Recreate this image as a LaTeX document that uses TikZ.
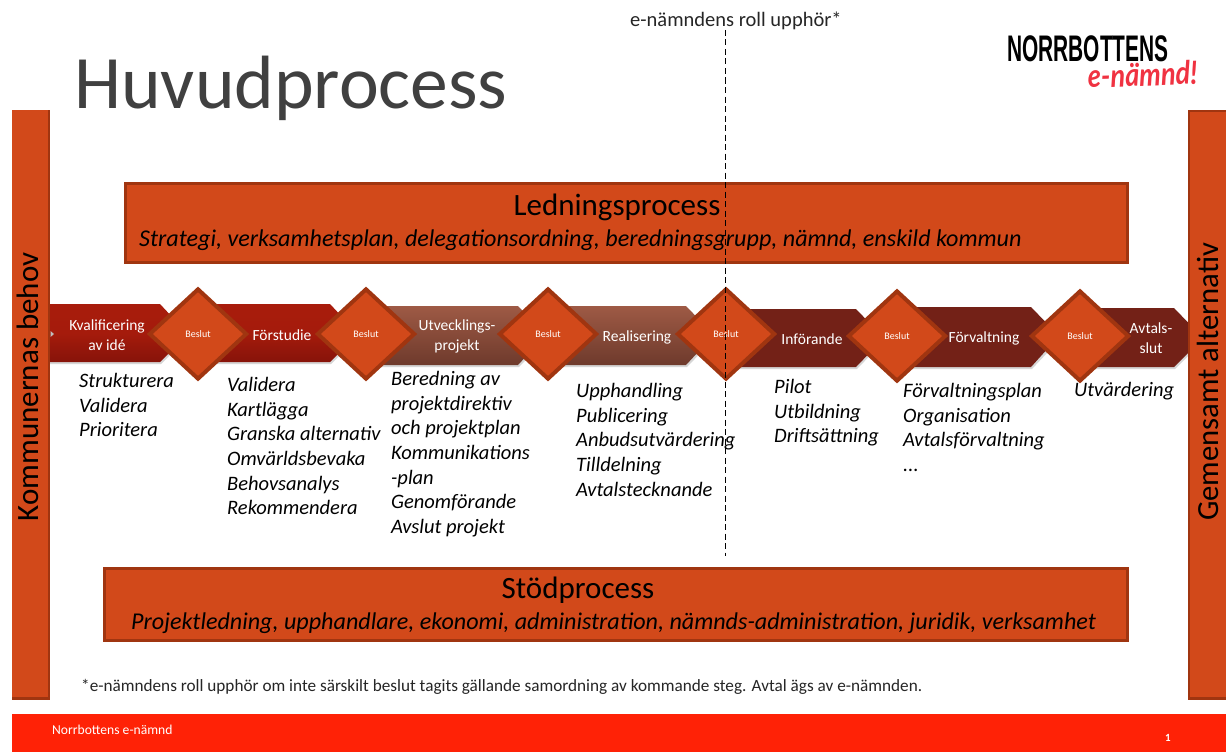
\documentclass[tikz,border=0pt]{standalone}
\usepackage{fontspec}
\setmainfont{Carlito}
\newfontfamily\logofont{Liberation Sans}
\newfontfamily\scriptlogo{Lato}
\usetikzlibrary{shapes.geometric}
\definecolor{bar}{HTML}{D2491A}
\definecolor{barEdge}{HTML}{A03510}
\definecolor{redA}{HTML}{A81C0C}
\definecolor{redB}{HTML}{87130A}
\definecolor{brA}{HTML}{9E5A45}
\definecolor{brB}{HTML}{6E3A2C}
\definecolor{dk}{HTML}{732117}
\definecolor{footred}{HTML}{FF2206}
\newcommand{\fs}[1]{\fontsize{#1}{#1}\selectfont}
\tikzset{
 x=1pt,y=-1pt,
 barbox/.style={fill=bar,draw=barEdge,line width=2.8pt},
 sidetext/.style={rotate=90,font=\fs{31},text=black},
 gate/.style={diamond,aspect=1.07,fill=bar,draw=barEdge,line width=4pt,inner sep=0pt,minimum width=98pt,minimum height=91pt,font=\fs{10},text=white},
 steplabel/.style={font=\fontsize{15.5}{20}\selectfont,text=white,align=center,inner sep=0pt},
 tasks/.style={anchor=north west,align=left,inner sep=0pt,font=\itshape\fontsize{20.5}{24.7}\selectfont,text=black},
 chevshadow/.style={fill=black!16},
 redseg/.style={top color=redA,bottom color=redB,middle color=redA!90!redB},
 brseg/.style={top color=brA,bottom color=brB},
 dkseg/.style={fill=dk},
}
\begin{document}
\begin{tikzpicture}
\useasboundingbox (0,0) rectangle (1226,752);
\fill[white] (0,0) rectangle (1226,752);

% title and logo
\node[anchor=base west,inner sep=0pt,font=\fs{75.5},text=black!75] (title) at (74,108) {Huvudprocess};
\node[anchor=base,inner sep=0pt,font=\logofont\bfseries\fs{37}] (logoa) at (1088,62) {\scalebox{0.565}[1]{NORRBOTTENS}};
\node[anchor=base,inner sep=0pt,rotate=2,font=\scriptlogo\bfseries\itshape\fs{32},text={rgb,255:red,240;green,50;blue,65}] (logob) at (1143,86) {\scalebox{0.85}[1]{e-nämnd!}};
\node[anchor=base,inner sep=0pt,font=\fs{20.5},text=black!85] (role) at (736,26.5) {e-nämndens roll upphör*};

% left side bar
\fill[barEdge] (12,110) rectangle (50,700);
\fill[bar] (12,110) rectangle (48,697);
\node[sidetext] (lefttxt) at (27.5,387) {Kommunernas behov};

% management and support boxes
\node[barbox,minimum width=1002pt,minimum height=79pt,inner sep=0pt] (led) at (626.5,223) {};
\node[anchor=base,inner sep=0pt,font=\fs{31}] (ledt) at (617,215) {Ledningsprocess};
\node[anchor=base west,inner sep=0pt,font=\itshape\fs{24.1}] (leds) at (139,246) {Strategi, verksamhetsplan, delegationsordning, beredningsgrupp, nämnd, enskild kommun};
\node[barbox,minimum width=1023pt,minimum height=72pt,inner sep=0pt] (stod) at (616,604.5) {};
\node[anchor=base,inner sep=0pt,font=\fs{31}] (stodt) at (578,598) {Stödprocess};
\node[anchor=base west,inner sep=0pt,font=\itshape\fs{24.1}] (stods) at (131,629) {Projektledning, upphandlare, ekonomi, administration, nämnds-administration, juridik, verksamhet};

% chevrons
\fill[chevshadow] (50,306)--(161,306)--(190,335)--(161,364)--(50,364)--cycle;
\path[redseg] (50,304)--(160,304)--(188,334)--(160,362)--(50,362)--cycle;
\fill[chevshadow] (200,306)--(331,306)--(360,335)--(331,364)--(200,364)--cycle;
\path[redseg] (198,304)--(330,304)--(358,334)--(330,362)--(198,362)--cycle;
\fill[chevshadow] (370,308)--(519,308)--(548,337)--(519,367)--(370,367)--cycle;
\path[brseg] (366,306)--(518,306)--(546,335)--(518,365)--(366,365)--cycle;
\fill[chevshadow] (550,308)--(687,308)--(716,337)--(687,367)--(550,367)--cycle;
\path[brseg] (548,306)--(686,306)--(714,335)--(686,365)--(548,365)--cycle;
\fill[chevshadow] (730,311)--(857,311)--(886,339)--(857,369)--(730,369)--cycle;
\path[dkseg] (727,309)--(856,309)--(884,338)--(856,367)--(727,367)--cycle;
\fill[chevshadow] (900,309)--(1032,309)--(1061,338)--(1032,369)--(900,369)--cycle;
\path[dkseg] (897,307)--(1031,307)--(1059,336)--(1031,367)--(897,367)--cycle;
\fill[chevshadow] (1083,310)--(1175,310)--(1205,339)--(1175,369)--(1083,369)--cycle;
\path[dkseg] (1081,308)--(1174,308)--(1203,338)--(1174,367)--(1081,367)--cycle;
\fill[black!25] (50.5,331)--(54,334)--(50.5,337)--cycle;

% right side bar
\fill[barEdge] (1188,110) rectangle (1226,700);
\fill[bar] (1190,112) rectangle (1226,697);
\node[sidetext,font=\fs{30.7}] (righttxt) at (1208,382) {Gemensamt alternativ};

% gates
\node[gate] (g1) at (198,334) {Beslut};
\node[gate] (g2) at (366,334) {Beslut};
\node[gate] (g3) at (548,334) {Beslut};
\node[gate] (g4) at (726,334) {Beslut};
\node[gate] (g5) at (897,336) {Beslut};
\node[gate] (g6) at (1080,336) {Beslut};

% step labels
\node[steplabel] (s1) at (107,335) {Kvalificering\\av idé};
\node[steplabel] (s2) at (282,335.5) {Förstudie};
\node[steplabel] (s3) at (457,336) {Utvecklings-\\projekt};
\node[steplabel] (s4) at (637,337) {Realisering};
\node[steplabel] (s5) at (812,339) {Införande};
\node[steplabel] (s6) at (984,338.5) {Förvaltning};
\node[steplabel] (s7) at (1151,338) {Avtals-\\slut};

% task lists
\node[tasks] (t1) at (79,373) {Strukturera\\Validera\\Prioritera};
\node[tasks] (t2) at (227,377) {Validera\\Kartlägga\\Granska alternativ\\Omvärldsbevaka\\Behovsanalys\\Rekommendera};
\node[tasks] (t3) at (391,371) {Beredning av\\projektdirektiv\\och projektplan\\Kommunikations\\-plan\\Genomförande\\Avslut projekt};
\node[tasks] (t4) at (576,383) {Upphandling\\Publicering\\Anbudsutvärdering\\Tilldelning\\Avtalstecknande};
\node[tasks] (t5) at (774,379) {Pilot\\Utbildning\\Driftsättning};
\node[tasks] (t6) at (903,383) {Förvaltningsplan\\Organisation\\Avtalsförvaltning\\...};
\node[tasks] (t7) at (1074,382) {Utvärdering};

% role line
\coordinate (linetop) at (725,30);
\coordinate (linebot) at (725,556);
\draw[black,dashed,line width=0.9pt,dash pattern=on 6pt off 3.5pt] (linetop) -- (linebot);

% footnote and footer
\node[anchor=base west,inner sep=0pt,font=\fs{17.2},text=black!85] (note) at (81,691.5) {*e-nämndens roll upphör om inte särskilt beslut tagits gällande samordning av kommande steg. Avtal ägs av e-nämnden.};
\fill[footred] (12,714) rectangle (1226,752);
\node[anchor=base west,inner sep=0pt,font=\fs{13.6},text=white] (foot) at (52,734) {Norrbottens e-nämnd};
\node[anchor=base,inner sep=0pt,font=\bfseries\fs{11},text=white] (pg) at (1168,741) {1};
\end{tikzpicture}
\end{document}
